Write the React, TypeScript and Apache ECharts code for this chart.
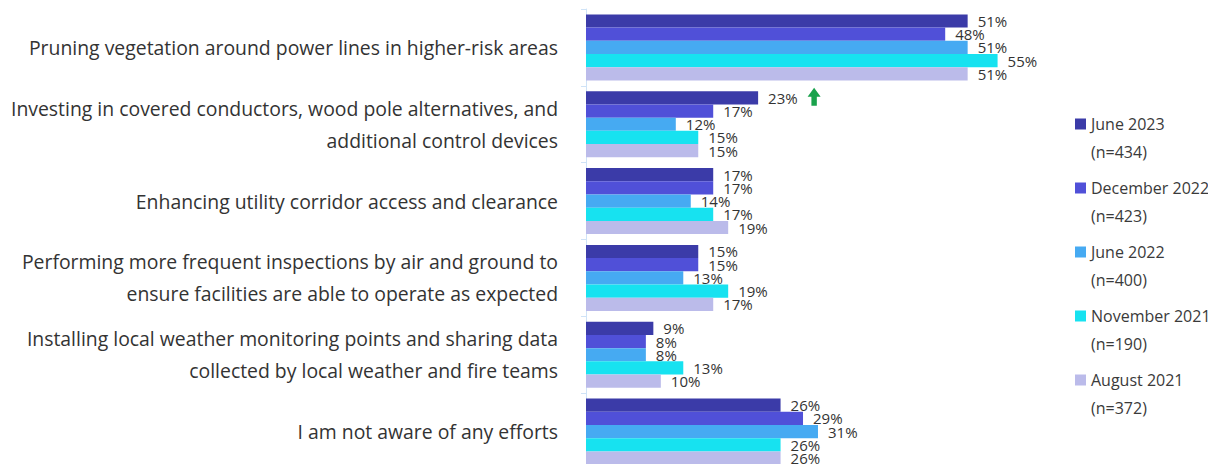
import React, { useEffect, useRef } from "react";
import * as echarts from "echarts";

const categories = [
  "Pruning vegetation around power lines in higher-risk areas",
  "Investing in covered conductors, wood pole alternatives, and\nadditional control devices",
  "Enhancing utility corridor access and clearance",
  "Performing more frequent inspections by air and ground to\nensure facilities are able to operate as expected",
  "Installing local weather monitoring points and sharing data\ncollected by local weather and fire teams",
  "I am not aware of any efforts",
];

const seriesNames = ["June 2023", "December 2022", "June 2022", "November 2021", "August 2021"];
const sampleSizes = ["(n=434)", "(n=423)", "(n=400)", "(n=190)", "(n=372)"];
const colors = ["#3b3ba8", "#5050d8", "#46aaf2", "#17e2f0", "#bbbbea"];

const june2023 = [51, 23, 17, 15, 9, 26];
const december2022 = [48, 17, 17, 15, 8, 29];
const june2022 = [51, 12, 14, 13, 8, 31];
const november2021 = [55, 15, 17, 19, 13, 26];
const august2021 = [51, 15, 19, 17, 10, 26];

const values = [june2023, december2022, june2022, november2021, august2021];

const FONT = "Open Sans";

export default function App() {
  const ref = useRef<HTMLDivElement>(null);
  useEffect(() => {
    if (!ref.current) return;
    const chart = echarts.init(ref.current, null, { renderer: "svg" });
    const nMap: Record<string, string> = {};
    seriesNames.forEach((n, i) => (nMap[n] = sampleSizes[i]));
    chart.setOption({
      animation: false,
      textStyle: { fontFamily: FONT },
      grid: { left: 586, right: 181, top: 9, bottom: 2 },
      legend: {
        orient: "vertical",
        left: 1070,
        top: 77,
        itemWidth: 11,
        itemHeight: 11,
        itemGap: -20,
        icon: "rect",
        data: seriesNames,
        formatter: (name: string) => `{e|}\n{t|${name}}\n{t|${nMap[name]}}`,
        textStyle: {
          fontFamily: FONT,
          fontSize: 16,
          color: "#3a3a3a",
          lineHeight: 28,
          rich: {
            e: { fontSize: 16, lineHeight: 28, height: 28 },
            t: { fontFamily: FONT, fontSize: 16, lineHeight: 28, color: "#3a3a3a" },
          },
        },
      },
      xAxis: {
        type: "value",
        min: 0,
        max: 60,
        show: false,
      },
      yAxis: {
        type: "category",
        data: categories,
        inverse: true,
        axisLine: { show: true, lineStyle: { color: "#cfe3f7", width: 1 } },
        axisTick: { show: true, length: 5, lineStyle: { color: "#cfe3f7" } },
        axisLabel: {
          margin: 28,
          fontFamily: FONT,
          fontSize: 19.4,
          lineHeight: 32,
          color: "#333",
          align: "right",
        },
      },
      series: seriesNames.map((name, i) => ({
        name,
        type: "bar",
        data: values[i],
        barGap: "0%",
        barCategoryGap: "14%",
        itemStyle: { color: colors[i] },
        label: {
          show: true,
          position: "right",
          distance: 10,
          formatter: "{c}%",
          fontFamily: FONT,
          fontSize: 15,
          color: "#333",
        },
        markPoint:
          i === 0
            ? {
                symbol: "path://M6,0 L12,8 L8.5,8 L8.5,16 L3.5,16 L3.5,8 L0,8 Z",
                symbolSize: [13, 18],
                symbolOffset: [56, -1],
                itemStyle: { color: "#19a24b" },
                label: { show: false },
                data: [{ coord: [june2023[1], 1] }],
              }
            : undefined,
      })),
    });
    return () => chart.dispose();
  }, []);
  return <div ref={ref} style={{ width: 1216, height: 472, margin: -8 }} />;
}
